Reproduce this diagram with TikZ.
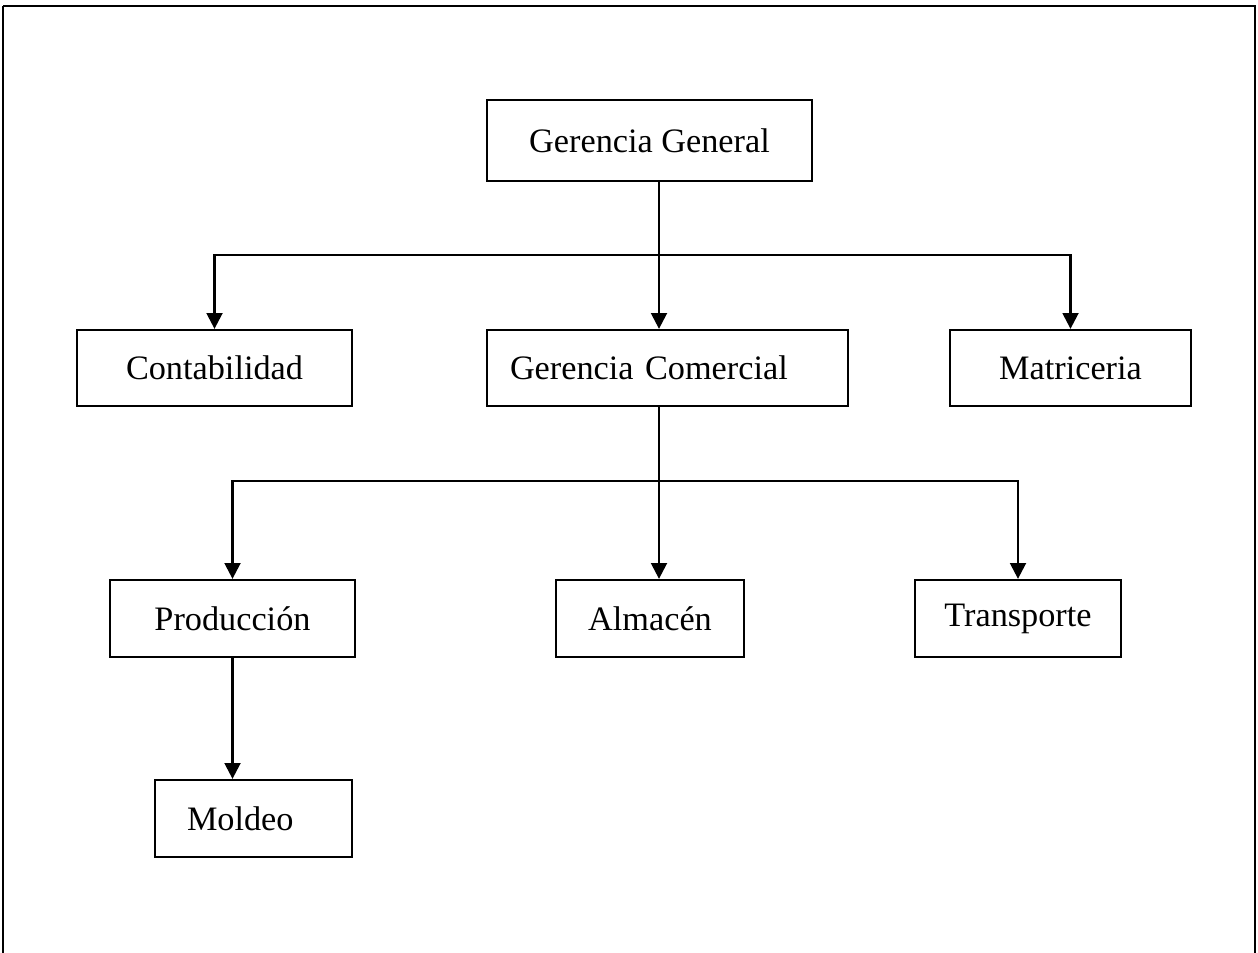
\documentclass[tikz,border=0pt]{standalone}
\usepackage{fontspec}
\setmainfont{Liberation Serif}
\usetikzlibrary{arrows.meta}
\begin{document}
\begin{tikzpicture}[x=0.02cm,y=-0.02cm,
  box/.style={draw=black, line width=1.3pt, inner sep=0pt, font=\fontsize{19.5}{23}\selectfont},
  conn/.style={line width=1.4pt, black},
  arr/.style={conn, -{Triangle[length=9pt,width=9pt]}},
  frame/.style={line width=1.6pt, black}]
\useasboundingbox (0,0) rectangle (1258,953);
\fill[white] (0,0) rectangle (1258,953);
\draw[frame] (3,6) -- (1255,6) -- (1255,970);
\draw[frame] (3,6) -- (3,970);
% nodes
\node[box, minimum width=325*0.02cm, minimum height=81*0.02cm] (gg) at (649.5,140.5) {Gerencia General};
\node[box, minimum width=275*0.02cm, minimum height=76*0.02cm] (cont) at (214.5,368) {Contabilidad};
\node[box, minimum width=361*0.02cm, minimum height=76*0.02cm, inner xsep=23*0.02cm, text width=315*0.02cm, align=left] (gc) at (667.5,368) {Gerencia Comercial};
\node[box, minimum width=241*0.02cm, minimum height=76*0.02cm] (mat) at (1070.5,368) {Matriceria};
\node[box, minimum width=245*0.02cm, minimum height=77*0.02cm] (prod) at (232.5,618.5) {Producción};
\node[box, minimum width=188*0.02cm, minimum height=77*0.02cm] (alm) at (650,618.5) {Almacén};
\node[box, minimum width=206*0.02cm, minimum height=77*0.02cm] (tra) at (1018,618.5) {Transporte};
\node[box, minimum width=197*0.02cm, minimum height=77*0.02cm, inner xsep=32*0.02cm, text width=133*0.02cm, align=left] (mol) at (253.5,818.5) {Moldeo};
% junctions
\coordinate (j1) at (659,255);
\coordinate (j2) at (659,481);
% level 1 connectors
\draw[arr] (gg.south -| j1) -- (gc.north -| j1);
\draw[arr] (j1) -| (cont.north);
\draw[arr] (j1) -| (mat.north);
% level 2 connectors
\draw[arr] (gc.south -| j2) -- (alm.north -| j2);
\draw[arr] (j2) -| (prod.north);
\draw[arr] (j2) -| (tra.north);
% production to moldeo
\draw[arr] (prod.south) -- (prod.south |- mol.north);
\end{tikzpicture}
\end{document}
